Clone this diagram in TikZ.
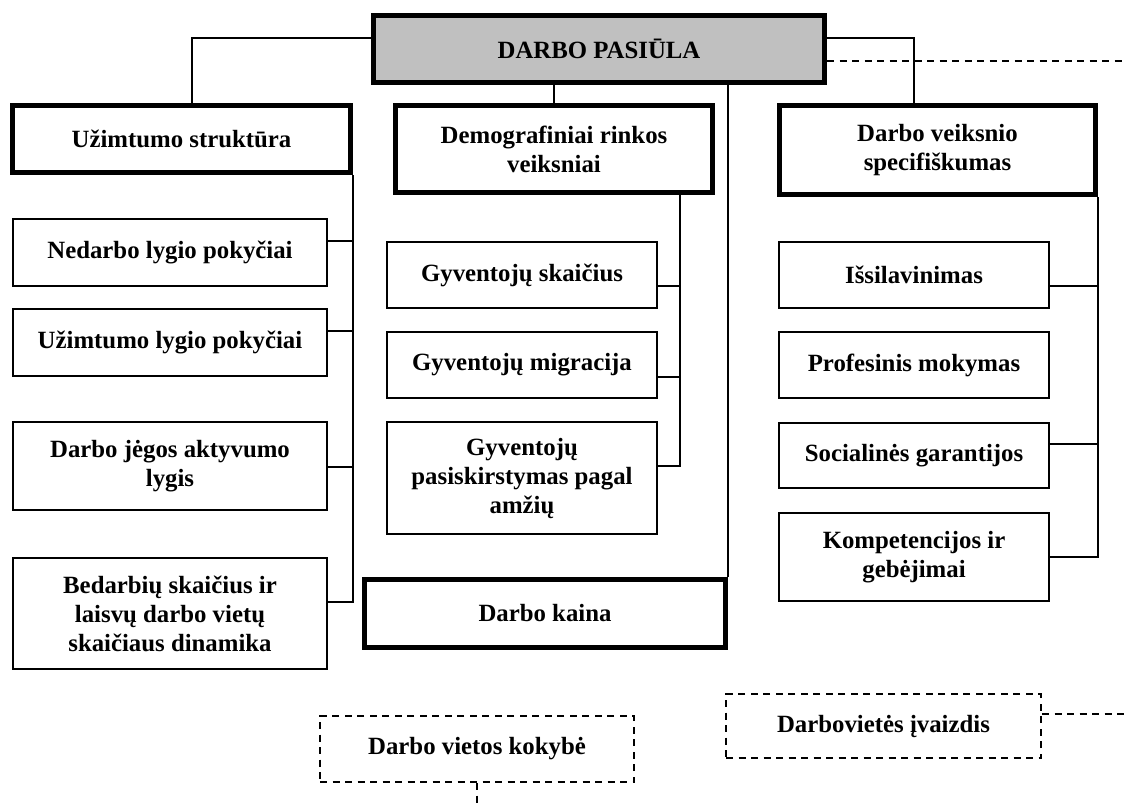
\documentclass[tikz,border=0pt]{standalone}
\usepackage{fontspec}
\setmainfont{Liberation Serif}
\definecolor{boxgray}{HTML}{C0C0C0}
\begin{document}
\begin{tikzpicture}[x=1pt,y=-1pt,
  every node/.style={font=\bfseries\fontsize{24.8}{29}\selectfont, align=center, inner sep=0pt},
  mainbox/.style={draw, line width=5pt, fill=boxgray},
  headbox/.style={draw, line width=5pt, fill=white},
  itembox/.style={draw, line width=2pt, fill=white},
  optbox/.style={draw, line width=2pt, dash pattern=on 7pt off 5.5pt},
  link/.style={line width=1.8pt},
  optlink/.style={line width=2pt, dash pattern=on 7pt off 5.5pt}]
\useasboundingbox (0,0) rectangle (1124,804);

% root and the four main groups
\node[mainbox, minimum width=451pt, minimum height=67pt] (top) at (599,49) {DARBO PASIŪLA};
\node[headbox, minimum width=338pt, minimum height=67pt] (uzs) at (181.5,139) {Užimtumo struktūra};
\node[headbox, minimum width=317pt, minimum height=87pt] (demo) at (554,149) {Demografiniai rinkos\\veiksniai};
\node[headbox, minimum width=316pt, minimum height=89pt] (dvs) at (937.5,150) {Darbo veiksnio\\specifiškumas};
\node[headbox, minimum width=361pt, minimum height=68pt] (kaina) at (545,613.5) {Darbo kaina};

% left column
\node[itembox, minimum width=314pt, minimum height=67pt] (ned) at (170,252.5) {Nedarbo lygio pokyčiai};
\node[itembox, minimum width=314pt, minimum height=67pt] (uzl) at (170,342.5) {Užimtumo lygio pokyčiai};
\node[itembox, minimum width=314pt, minimum height=88pt] (djg) at (170,466) {Darbo jėgos aktyvumo\\lygis};
\node[itembox, minimum width=314pt, minimum height=111pt] (bed) at (170,613.5) {Bedarbių skaičius ir\\laisvų darbo vietų\\skaičiaus dinamika};

% middle column
\node[itembox, minimum width=270pt, minimum height=66pt] (gsk) at (522,275) {Gyventojų skaičius};
\node[itembox, minimum width=270pt, minimum height=66pt] (gmi) at (522,365) {Gyventojų migracija};
\node[itembox, minimum width=270pt, minimum height=112pt] (gpa) at (522,478) {Gyventojų\\pasiskirstymas pagal\\amžių};

% right column
\node[itembox, minimum width=270pt, minimum height=66pt] (iss) at (914,275) {Išsilavinimas};
\node[itembox, minimum width=270pt, minimum height=66pt] (pro) at (914,365) {Profesinis mokymas};
\node[itembox, minimum width=270pt, minimum height=65pt] (soc) at (914,455.5) {Socialinės garantijos};
\node[itembox, minimum width=270pt, minimum height=88pt] (kom) at (914,557) {Kompetencijos ir\\gebėjimai};

% optional factors
\node[optbox, minimum width=314pt, minimum height=66pt] (dvk) at (477,749) {Darbo vietos kokybė};
\node[optbox, minimum width=315pt, minimum height=64pt] (div) at (883.5,726) {Darbovietės įvaizdis};

% free ends and trunk positions
\coordinate (edgeA) at (1124,61);
\coordinate (edgeB) at (1124,714);
\coordinate (edgeC) at (477,804);
\coordinate (midtrunk) at (680,0);

% root to groups
\draw[link] (top.west |- 0,38) -| (uzs.north -| 192,0);
\draw[link] (demo.north |- top.south) -- (demo.north);
\draw[link] (top.east |- 0,38) -| (dvs.north -| 914,0);
\draw[link] (kaina.north east |- top.south) -- (kaina.north east);
\draw[optlink] (top.east |- edgeA) -- (edgeA);

% left trunk
\draw[link] (uzs.south east) -- (uzs.south east |- 0,602) -- (bed.east |- 0,602);
\draw[link] (ned.east |- 0,241) -- (uzs.south east |- 0,241);
\draw[link] (uzl.east |- 0,331) -- (uzs.south east |- 0,331);
\draw[link] (djg.east |- 0,467) -- (uzs.south east |- 0,467);

% middle trunk
\draw[link] (demo.south -| midtrunk) |- (gpa.east |- 0,466);
\draw[link] (gsk.east |- 0,286) -- (midtrunk |- 0,286);
\draw[link] (gmi.east |- 0,377) -- (midtrunk |- 0,377);

% right trunk
\draw[link] (dvs.south east) -- (dvs.south east |- kom.east) -- (kom.east);
\draw[link] (iss.east |- 0,286) -- (dvs.south east |- 0,286);
\draw[link] (soc.east |- 0,444) -- (dvs.south east |- 0,444);

% dashed links
\draw[optlink] (dvk.south) -- (edgeC);
\draw[optlink] (div.east |- edgeB) -- (edgeB);
\end{tikzpicture}
\end{document}
